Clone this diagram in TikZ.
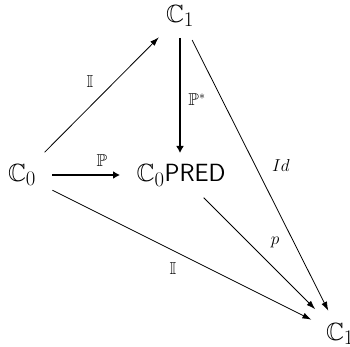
\documentclass[tikz,border=0pt]{standalone}
\usepackage{amssymb}
\usetikzlibrary{arrows.meta}
\tikzset{
  obj/.style={inner sep=0pt, font=\Huge},
  lbl/.style={inner sep=0pt, font=\LARGE},
  thinarrow/.style={line width=0.8pt, -{Latex[length=9pt,width=6pt]}},
  thickarrow/.style={line width=2.6pt, -{Latex[length=7pt,width=8pt]}},
}
\begin{document}
\begin{tikzpicture}[x=1pt,y=-1pt]
\useasboundingbox (0,0) rectangle (350,347);
\node[obj] (c1t) at (180,16) {$\mathbb{C}_1$};
\node[obj] (c0) at (22,175) {$\mathbb{C}_0$};
\node[obj] (pred) at (181,175) {$\mathbb{C}_0$\textsf{PRED}};
\node[obj] (c1b) at (340,334) {$\mathbb{C}_1$};

\draw[thinarrow, shorten <=32pt, shorten >=30pt] (c0.center) -- (c1t.center);
\draw[thickarrow, shorten <=22pt, shorten >=22pt] (c1t.center) -- (c1t.center |- pred.center);
\draw[thinarrow, shorten <=27pt, shorten >=26pt] (c1t.center) -- (c1b.center);
\draw[thickarrow, shorten <=30pt, shorten >=61pt] (c0.center) -- (pred.center);
\draw[thinarrow, shorten <=34pt, shorten >=32pt] (c0.center) -- (c1b.center);
\draw[thinarrow, shorten <=32pt, shorten >=35pt] (pred.center) -- (c1b.center);

\node[lbl] (l1) at (90,82) {$\mathbb{I}$};
\node[lbl] (l2) at (197,100) {$\mathbb{P}^*$};
\node[lbl] (l3) at (281,166) {$Id$};
\node[lbl] (l4) at (102,161) {$\mathbb{P}$};
\node[lbl] (l5) at (275,242) {$p$};
\node[lbl] (l6) at (173,269) {$\mathbb{I}$};
\end{tikzpicture}
\end{document}
